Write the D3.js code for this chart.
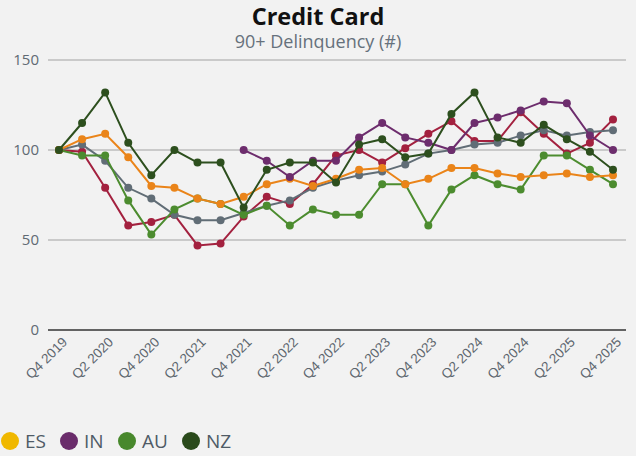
<!DOCTYPE html>
<html>
<head>
<meta charset="utf-8">
<script src="https://cdn.jsdelivr.net/npm/d3@7"></script>
<style>
  body { margin: 0; background: #f2f2f2; }
  svg { display: block; }
</style>
</head>
<body>
<script>
var width = 636,
    height = 456;

var quarters = ['Q4 2019','Q1 2020','Q2 2020','Q3 2020','Q4 2020','Q1 2021','Q2 2021','Q3 2021',
  'Q4 2021','Q1 2022','Q2 2022','Q3 2022','Q4 2022','Q1 2023','Q2 2023','Q3 2023',
  'Q4 2023','Q1 2024','Q2 2024','Q3 2024','Q4 2024','Q1 2025','Q2 2025','Q3 2025','Q4 2025'];

var yTicks = [0, 50, 100, 150];

var esValues = [100, 106, 109, 96, 80, 79, 73, 70, 74, 81, 84, 80, 84, 89, 90, 81, 84, 90, 90, 87, 85, 86, 87, 85, 86];
var inValues = [null, null, null, null, null, null, null, null, 100, 94, 85, 94, 94, 107, 115, 107, 104, 100, 115, 118, 122, 127, 126, 108, 100];
var auValues = [100, 97, 97, 72, 53, 67, 73, 70, 64, 69, 58, 67, 64, 64, 81, 81, 58, 78, 86, 81, 78, 97, 97, 89, 81];
var nzValues = [100, 115, 132, 104, 86, 100, 93, 93, 68, 89, 93, 93, 82, 103, 106, 96, 98, 120, 132, 107, 104, 114, 106, 99, 89];
var redValues = [100, 99, 79, 58, 60, 64, 47, 48, 63, 74, 70, 81, 97, 100, 93, 101, 109, 116, 105, 105, 121, 109, 98, 104, 117];
var greyValues = [100, 103, 94, 79, 73, 64, 61, 61, 65, 69, 72, 79, 83, 86, 88, 92, 98, 100, 103, 104, 108, 111, 108, 110, 111];

var series = [
  { name: 'Other A', color: '#a3213f', values: redValues },
  { name: 'Other B', color: '#616d76', values: greyValues },
  { name: 'AU', color: '#4c8c2f', values: auValues },
  { name: 'ES', color: '#ea8419', values: esValues },
  { name: 'IN', color: '#6d2d6d', values: inValues },
  { name: 'NZ', color: '#2d4f1e', values: nzValues }
];

var legendItems = [
  { name: 'ES', color: '#f0b800' },
  { name: 'IN', color: '#6a2c6b' },
  { name: 'AU', color: '#48882c' },
  { name: 'NZ', color: '#2a4a1b' }
];

var svg = d3.select('body')
  .append('svg')
  .attr('width', width)
  .attr('height', height);

svg.append('rect')
  .attr('width', width)
  .attr('height', height)
  .attr('fill', '#f2f2f2');

var x = d3.scalePoint()
  .domain(quarters)
  .range([59, 613]);

var y = d3.scaleLinear()
  .domain([0, 150])
  .range([330, 60]);

// title
svg.append('text')
  .attr('x', width / 2)
  .attr('y', 25)
  .attr('text-anchor', 'middle')
  .style('font-family', 'Open Sans')
  .style('font-weight', 'bold')
  .style('font-size', '23.5px')
  .style('fill', '#111')
  .text('Credit Card');

svg.append('text')
  .attr('x', width / 2)
  .attr('y', 48)
  .attr('text-anchor', 'middle')
  .style('font-family', 'Open Sans')
  .style('font-size', '18px')
  .style('fill', '#66717c')
  .text('90+ Delinquency (#)');

// grid + y labels
svg.selectAll('.grid')
  .data(yTicks)
  .enter().append('line')
  .attr('x1', 48)
  .attr('x2', 626)
  .attr('y1', function (d) { return y(d); })
  .attr('y2', function (d) { return y(d); })
  .attr('stroke', function (d) { return d === 0 ? '#333' : '#bdbdbd'; })
  .attr('stroke-width', 1.5);

svg.selectAll('.ylab')
  .data(yTicks)
  .enter().append('text')
  .attr('x', 39)
  .attr('y', function (d) { return y(d) + 5; })
  .attr('text-anchor', 'end')
  .style('font-family', 'Open Sans')
  .style('font-size', '15px')
  .style('fill', '#606a73')
  .text(function (d) { return d; });

// x labels, every second quarter
svg.selectAll('.xlab')
  .data(quarters.filter(function (d, i) { return i % 2 === 0; }))
  .enter().append('text')
  .attr('transform', function (d) {
    return 'translate(' + (x(d) + 9) + ',343) rotate(-45)';
  })
  .attr('text-anchor', 'end')
  .style('font-family', 'Liberation Sans')
  .style('font-size', '13.5px')
  .style('fill', '#5d666e')
  .text(function (d) { return d; });

var line = d3.line()
  .defined(function (d) { return d != null; })
  .x(function (d, i) { return x(quarters[i]); })
  .y(function (d) { return y(d); });

series.forEach(function (s) {
  var g = svg.append('g');
  g.append('path')
    .datum(s.values)
    .attr('d', line)
    .attr('fill', 'none')
    .attr('stroke', s.color)
    .attr('stroke-width', 2);
  g.selectAll('circle')
    .data(s.values.map(function (v, i) { return { v: v, q: quarters[i] }; })
      .filter(function (d) { return d.v != null; }))
    .enter().append('circle')
    .attr('cx', function (d) { return x(d.q); })
    .attr('cy', function (d) { return y(d.v); })
    .attr('r', 4)
    .attr('fill', s.color);
});

// legend
var legendX = [10, 69, 127, 191];
var legend = svg.selectAll('.legend')
  .data(legendItems)
  .enter().append('g')
  .attr('transform', function (d, i) { return 'translate(' + legendX[i] + ',441)'; });

legend.append('circle')
  .attr('r', 9)
  .attr('fill', function (d) { return d.color; });

legend.append('text')
  .attr('x', 15)
  .attr('y', 7)
  .style('font-family', 'Open Sans')
  .style('font-size', '19px')
  .style('fill', '#4f5b66')
  .text(function (d) { return d.name; });
</script>
</body>
</html>
